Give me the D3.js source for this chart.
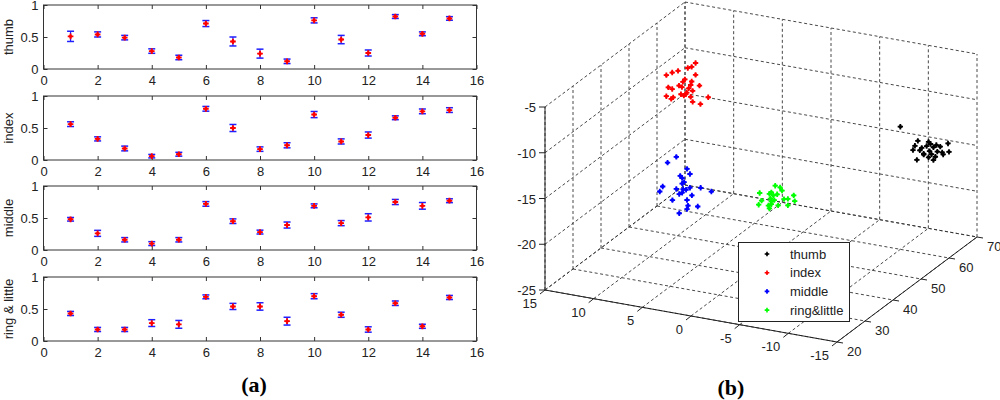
<!DOCTYPE html>
<html>
<head>
<meta charset="utf-8">
<script src="https://cdn.jsdelivr.net/npm/d3@7"></script>
<style>
  body { margin: 0; background: #fff; }
  svg { display: block; font-family: "Liberation Sans", Arial, sans-serif; }
  .tick text { font-size: 13px; fill: #222; }
  .tick line { stroke: #333; }
</style>
</head>
<body>
<svg id="chart" width="1000" height="400"></svg>
<script>
// ---- panel (a): mean +/- error per trial ----
const trials = [1, 2, 3, 4, 5, 6, 7, 8, 9, 10, 11, 12, 13, 14, 15];
const fingers = ["thumb", "index", "middle", "ring & little"];
const xTicks = [0, 2, 4, 6, 8, 10, 12, 14, 16];
const yTicks = [0, 0.5, 1];

const thumbMean = [0.51, 0.54, 0.49, 0.28, 0.18, 0.71, 0.43, 0.24, 0.12, 0.76, 0.46, 0.25, 0.82, 0.55, 0.79];
const thumbErr = [0.08, 0.04, 0.035, 0.035, 0.035, 0.047, 0.07, 0.07, 0.035, 0.04, 0.065, 0.047, 0.03, 0.03, 0.028];
const indexMean = [0.56, 0.33, 0.18, 0.06, 0.09, 0.80, 0.50, 0.17, 0.23, 0.71, 0.29, 0.39, 0.66, 0.76, 0.78];
const indexErr = [0.037, 0.032, 0.037, 0.027, 0.03, 0.037, 0.055, 0.035, 0.04, 0.048, 0.04, 0.048, 0.03, 0.037, 0.037];
const middleMean = [0.48, 0.26, 0.16, 0.10, 0.16, 0.72, 0.45, 0.28, 0.39, 0.69, 0.42, 0.51, 0.75, 0.69, 0.77];
const middleErr = [0.028, 0.047, 0.034, 0.03, 0.034, 0.036, 0.036, 0.03, 0.047, 0.03, 0.04, 0.057, 0.04, 0.052, 0.03];
const ringMean = [0.43, 0.18, 0.18, 0.28, 0.26, 0.69, 0.54, 0.54, 0.31, 0.70, 0.41, 0.18, 0.59, 0.23, 0.68];
const ringErr = [0.032, 0.032, 0.032, 0.053, 0.061, 0.03, 0.048, 0.058, 0.061, 0.04, 0.04, 0.042, 0.035, 0.032, 0.032];

// ---- panel (b): 3D feature clusters, [x, y, z] ----
const thumbPts = [
  [-10.0, 60, -11.6], [-11.8, 60, -12.8], [-12.9, 60, -12.7], [-13.1, 60, -12.9], [-13.7, 60, -12.9],
  [-11.5, 60, -13.4], [-12.2, 60, -13.5], [-12.7, 60, -13.2], [-13.4, 60, -13.2], [-14.1, 60, -13.0],
  [-14.9, 60, -12.5], [-11.3, 60, -13.9], [-12.0, 60, -13.8], [-13.0, 60, -13.7], [-13.8, 60, -13.6],
  [-14.3, 60, -13.6], [-15.0, 60, -13.4], [-12.4, 60, -14.2], [-13.2, 60, -14.0], [-13.6, 60, -14.2],
  [-12.9, 60, -14.4], [-11.7, 60, -14.9], [-13.4, 60, -14.6], [-12.4, 60, -14.1], [-14.4, 60, -13.8]
];
const indexPts = [
  [9.6, 55, -7.2], [10.0, 55, -7.7], [10.4, 55, -7.9], [11.4, 55, -8.4], [12.0, 55, -8.7],
  [12.6, 55, -9.1], [9.6, 55, -8.5], [10.7, 55, -9.2], [10.9, 55, -9.5], [10.0, 55, -9.3],
  [9.2, 55, -9.6], [10.1, 55, -9.7], [11.3, 55, -10.0], [12.4, 55, -10.4], [12.0, 55, -10.5],
  [11.0, 55, -10.1], [10.3, 55, -10.1], [9.9, 55, -10.3], [10.5, 55, -10.6], [11.1, 55, -10.9],
  [12.6, 55, -11.4], [11.9, 55, -11.4], [12.1, 55, -11.6], [10.8, 55, -11.0], [10.1, 55, -11.0],
  [8.3, 55, -10.7], [9.9, 55, -11.5], [9.1, 55, -11.6], [10.6, 55, -10.8]
];
const middlePts = [
  [8.7, 45, -15.0], [9.6, 45, -15.8], [7.6, 45, -16.1], [7.3, 45, -16.6], [8.3, 45, -17.0],
  [8.1, 45, -17.2], [7.9, 45, -17.6], [8.1, 45, -17.8], [10.1, 45, -18.5], [7.3, 45, -18.1],
  [6.2, 45, -17.9], [8.7, 45, -18.5], [7.7, 45, -18.4], [5.1, 45, -18.1], [10.4, 45, -19.1],
  [8.1, 45, -18.8], [8.4, 45, -19.0], [7.1, 45, -18.9], [9.1, 45, -19.8], [7.6, 45, -19.5],
  [7.5, 45, -20.1], [6.5, 45, -20.0], [7.6, 45, -20.5], [8.4, 45, -21.1], [8.0, 45, -18.4]
];
const ringPts = [
  [-2.9, 40, -14.8], [-3.4, 40, -14.9], [-3.6, 40, -15.2], [-2.5, 40, -15.6], [-2.3, 40, -15.8],
  [-2.7, 40, -15.9], [-3.1, 40, -15.7], [-1.3, 40, -15.9], [-4.2, 40, -16.0], [-3.8, 40, -16.1],
  [-4.9, 40, -16.1], [-1.5, 40, -16.7], [-2.4, 40, -16.3], [-2.5, 40, -16.6], [-2.8, 40, -16.4],
  [-1.2, 40, -17.2], [-2.2, 40, -17.1], [-3.2, 40, -16.9], [-4.2, 40, -16.7], [-2.5, 40, -16.9],
  [-2.3, 40, -17.4], [-4.8, 40, -15.5]
];
const legendNames = ["thumb", "index", "middle", "ring&little"];
const clusterColors = ["#000000", "#ff0000", "#0000ff", "#00ff00"];
const x3Ticks = [15, 10, 5, 0, -5, -10, -15];
const y3Ticks = [20, 30, 40, 50, 60, 70];
const z3Ticks = [-25, -20, -15, -10, -5];

const svg = d3.select("#chart");

// ================= panel (a) =================
const panelTops = [5, 96, 186, 277];
const panelH = 64;
const x = d3.scaleLinear().domain([0, 16]).range([43.5, 476.5]);
const means = [thumbMean, indexMean, middleMean, ringMean];
const errs = [thumbErr, indexErr, middleErr, ringErr];

fingers.forEach((name, k) => {
  const top = panelTops[k];
  const y = d3.scaleLinear().domain([0, 1]).range([top + panelH, top]);
  const g = svg.append("g");

  g.append("g").attr("transform", `translate(0,${top + panelH})`)
    .call(d3.axisBottom(x).tickValues(xTicks).tickSize(-4).tickPadding(6.5).tickFormat(d3.format("d")))
    .call(a => a.select(".domain").remove());
  g.append("g").attr("transform", `translate(0,${top})`)
    .call(d3.axisTop(x).tickValues(xTicks).tickSize(-4).tickFormat(""))
    .call(a => a.select(".domain").remove());
  g.append("g").attr("transform", `translate(${x(0)},0)`)
    .call(d3.axisLeft(y).tickValues(yTicks).tickSize(-4).tickPadding(5).tickFormat(d => d))
    .call(a => a.select(".domain").remove());
  g.append("g").attr("transform", `translate(${x(16)},0)`)
    .call(d3.axisRight(y).tickValues(yTicks).tickSize(-4).tickFormat(""))
    .call(a => a.select(".domain").remove());

  g.append("rect")
    .attr("x", x(0)).attr("y", top)
    .attr("width", x(16) - x(0)).attr("height", panelH)
    .attr("fill", "none").attr("stroke", "#333");

  g.append("text")
    .attr("transform", `translate(13,${top + panelH / 2}) rotate(-90)`)
    .attr("text-anchor", "middle")
    .style("font-size", "13px").style("fill", "#222")
    .text(name);

  const rows = trials.map((t, i) => ({ t, m: means[k][i], e: errs[k][i] }));
  const bars = g.selectAll(".bar").data(rows).enter().append("g").attr("class", "bar");
  bars.append("line")
    .attr("x1", d => x(d.t)).attr("x2", d => x(d.t))
    .attr("y1", d => y(d.m - d.e)).attr("y2", d => y(d.m + d.e))
    .attr("stroke", "#1f1fff").attr("stroke-width", 1.2);
  [-1, 1].forEach(s => {
    bars.append("line")
      .attr("x1", d => x(d.t) - 3.5).attr("x2", d => x(d.t) + 3.5)
      .attr("y1", d => y(d.m + s * d.e)).attr("y2", d => y(d.m + s * d.e))
      .attr("stroke", "#1f1fff").attr("stroke-width", 1.5);
  });
  bars.append("path")
    .attr("transform", d => `translate(${x(d.t)},${y(d.m)})`)
    .attr("d", d3.symbol(d3.symbolCross, 18))
    .attr("fill", "#ff0000");
  bars.append("circle")
    .attr("cx", d => x(d.t)).attr("cy", d => y(d.m))
    .attr("r", 1.7).attr("fill", "#ff0000");
});

svg.append("text")
  .attr("x", 254).attr("y", 392)
  .attr("text-anchor", "middle")
  .style("font-family", "'Liberation Serif', 'Times New Roman', serif")
  .style("font-size", "22px").style("font-weight", "bold")
  .text("(a)");

// ================= panel (b) =================
// oblique projection: each data axis maps onto a screen vector
const origin = [545, 290];
const fx = d3.scaleLinear().domain([15, -15]).range([0, 1]);
const fy = d3.scaleLinear().domain([20, 70]).range([0, 1]);
const fz = d3.scaleLinear().domain([-25, -5]).range([0, 1]);
const ex = [292, 52], ey = [140, -105], ez = [0, -183];

function proj(px, py, pz) {
  const a = fx(px), b = fy(py), c = fz(pz);
  return [origin[0] + a * ex[0] + b * ey[0] + c * ez[0],
          origin[1] + a * ex[1] + b * ey[1] + c * ez[1]];
}

const gb = svg.append("g");
const segs = [];
// left wall x=15
y3Ticks.forEach(v => segs.push([[15, v, -25], [15, v, -5]]));
z3Ticks.forEach(v => segs.push([[15, 20, v], [15, 70, v]]));
// back wall y=70
x3Ticks.forEach(v => segs.push([[v, 70, -25], [v, 70, -5]]));
z3Ticks.forEach(v => segs.push([[15, 70, v], [-15, 70, v]]));
// floor z=-25
x3Ticks.forEach(v => segs.push([[v, 20, -25], [v, 70, -25]]));
y3Ticks.forEach(v => segs.push([[15, v, -25], [-15, v, -25]]));

gb.selectAll(".grid").data(segs).enter().append("line")
  .attr("class", "grid")
  .attr("x1", d => proj(...d[0])[0]).attr("y1", d => proj(...d[0])[1])
  .attr("x2", d => proj(...d[1])[0]).attr("y2", d => proj(...d[1])[1])
  .attr("stroke", "#333").attr("stroke-width", 0.9)
  .attr("stroke-dasharray", "3,2.5");

// solid axis lines
const axes3 = [
  [[15, 20, -25], [15, 20, -5]],
  [[15, 20, -25], [-15, 20, -25]],
  [[-15, 20, -25], [-15, 70, -25]]
];
gb.selectAll(".ax3").data(axes3).enter().append("line")
  .attr("class", "ax3")
  .attr("x1", d => proj(...d[0])[0]).attr("y1", d => proj(...d[0])[1])
  .attr("x2", d => proj(...d[1])[0]).attr("y2", d => proj(...d[1])[1])
  .attr("stroke", "#222").attr("stroke-width", 1);

// z ticks and labels
z3Ticks.forEach(v => {
  const p = proj(15, 20, v);
  gb.append("line").attr("x1", p[0] - 6).attr("x2", p[0]).attr("y1", p[1]).attr("y2", p[1]).attr("stroke", "#222");
  gb.append("text").attr("x", p[0] - 9).attr("y", p[1] + 5).attr("text-anchor", "end")
    .style("font-size", "13px").style("fill", "#222").text(v);
});
// x ticks and labels
x3Ticks.forEach(v => {
  const p = proj(v, 20, -25);
  gb.append("line").attr("x1", p[0]).attr("y1", p[1]).attr("x2", p[0] - 5).attr("y2", p[1] + 4).attr("stroke", "#222");
  gb.append("text").attr("x", p[0] - 8).attr("y", p[1] + 18).attr("text-anchor", "end")
    .style("font-size", "13px").style("fill", "#222").text(v);
});
// y ticks and labels
y3Ticks.forEach(v => {
  const p = proj(-15, v, -25);
  gb.append("line").attr("x1", p[0]).attr("y1", p[1]).attr("x2", p[0] + 6).attr("y2", p[1] + 1).attr("stroke", "#222");
  gb.append("text").attr("x", p[0] + 10).attr("y", p[1] + 14).attr("text-anchor", "start")
    .style("font-size", "13px").style("fill", "#222").text(v);
});

// scatter clusters: plus-shaped blobs
const clusters = [thumbPts, indexPts, middlePts, ringPts];
const marker = d3.symbol(d3.symbolCross, 16);
clusters.forEach((pts, k) => {
  const pg = gb.append("g").attr("fill", clusterColors[k]);
  pg.selectAll("path").data(pts).enter().append("path")
    .attr("transform", d => { const p = proj(...d); return `translate(${p[0]},${p[1]})`; })
    .attr("d", marker);
  pg.selectAll("circle").data(pts).enter().append("circle")
    .attr("cx", d => proj(...d)[0]).attr("cy", d => proj(...d)[1])
    .attr("r", 1.8);
});

// legend
const lg = gb.append("g");
lg.append("rect").attr("x", 738.5).attr("y", 242.5).attr("width", 111).attr("height", 79)
  .attr("fill", "#fff").attr("stroke", "#222");
legendNames.forEach((n, i) => {
  const ly = 254 + i * 18.7;
  lg.append("path").attr("transform", `translate(767,${ly})`).attr("d", d3.symbol(d3.symbolCross, 12)).attr("fill", clusterColors[i]);
  lg.append("circle").attr("cx", 767).attr("cy", ly).attr("r", 1.3).attr("fill", clusterColors[i]);
  lg.append("text").attr("x", 790).attr("y", ly + 4.5)
    .style("font-size", "13px").style("fill", "#222").text(n);
});

svg.append("text")
  .attr("x", 731).attr("y", 395)
  .attr("text-anchor", "middle")
  .style("font-family", "'Liberation Serif', 'Times New Roman', serif")
  .style("font-size", "22px").style("font-weight", "bold")
  .text("(b)");
</script>
</body>
</html>
